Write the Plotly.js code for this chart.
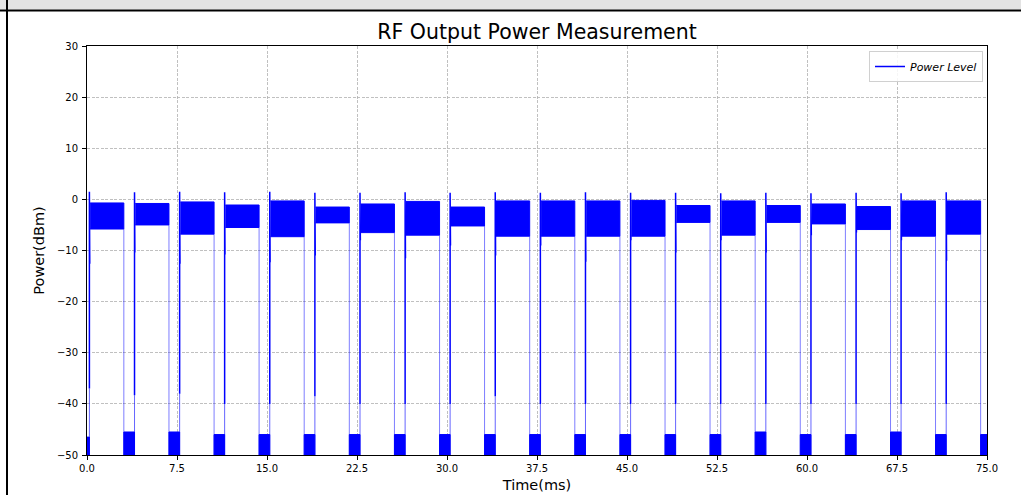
<!DOCTYPE html>
<html>
<head>
<meta charset="utf-8">
<script src="https://cdn.plot.ly/plotly-3.0.1.min.js"></script>
<style>html,body{margin:0;padding:0;background:#fff;overflow:hidden;}#chart{width:1021px;height:495px;}</style>
</head>
<body>
<div id="chart"></div>
<script>
// ---- data (time in ms, power in dBm) ----
const burstStart = [0.20, 3.96, 7.72, 11.47, 15.23, 18.99, 22.75, 26.51, 30.26, 34.02, 37.78, 41.54, 45.30, 49.05, 52.81, 56.57, 60.33, 64.09, 67.84, 71.60];
const burstEnd   = [3.07, 6.83, 10.59, 14.34, 18.10, 21.86, 25.62, 29.38, 33.13, 36.89, 40.65, 44.41, 48.17, 51.92, 55.68, 59.44, 63.20, 66.96, 70.71, 74.47];
const bandTop    = [-0.7, -0.8, -0.5, -1.1, -0.3, -1.5, -0.9, -0.4, -1.5, -0.3, -0.3, -0.3, -0.2, -1.2, -0.3, -1.2, -0.9, -1.4, -0.3, -0.3];
const bandBottom = [-5.8, -5.0, -6.8, -5.5, -7.3, -4.6, -6.5, -7.0, -5.2, -7.2, -7.2, -7.2, -7.2, -4.5, -7.0, -4.5, -4.8, -5.9, -7.2, -6.8];
const spikeTop   = [1.5, 1.4, 1.5, 1.4, 1.5, 1.3, 1.3, 1.4, 1.3, 1.4, 1.3, 1.4, 1.3, 1.3, 1.2, 1.3, 1.2, 1.3, 1.2, 1.4];
const spikeLow   = [-12.6, -10.4, -12.6, -10.8, -12.3, -11.0, -8.0, -11.5, -9.0, -11.0, -9.0, -12.2, -8.0, -10.4, -8.0, -10.4, -7.0, -6.5, -8.0, -12.0];
const riseFoot   = [-37.0, -38.3, -38.0, -40.0, -40.0, -38.5, -40.0, -40.0, -40.0, -38.5, -40.0, -40.0, -40.0, -40.0, -40.0, -40.0, -40.0, -40.0, -40.0, -40.0];
const gapTop     = [-46.5, -45.5, -45.5, -46.0, -46.0, -46.0, -46.0, -46.0, -46.0, -46.0, -46.0, -46.0, -46.0, -46.0, -46.0, -45.5, -46.0, -46.0, -45.5, -46.0, -46.0];
const xTickVals  = [0, 7.5, 15, 22.5, 30, 37.5, 45, 52.5, 60, 67.5, 75];
const xTickText  = ["0.0", "7.5", "15.0", "22.5", "30.0", "37.5", "45.0", "52.5", "60.0", "67.5", "75.0"];
const yTickVals  = [-50, -40, -30, -20, -10, 0, 10, 20, 30];
const xRange = [0, 75];
const yRange = [-50, 30];

// ---- build marks from the arrays ----
const floorY = yRange[0];
const BLUE = '#0000ff';

// noise-floor gaps
const gx = [], gy = [];
for (let j = 0; j <= burstStart.length; j++) {
  const s = j === 0 ? xRange[0] : burstEnd[j - 1];
  const e = j === burstStart.length ? xRange[1] : burstStart[j];
  gx.push(s, s, e, e, null);
  gy.push(floorY, gapTop[j], gapTop[j], floorY, null);
}
// on-bands
const bx = [], by = [];
for (let i = 0; i < burstStart.length; i++) {
  const s = burstStart[i] + 0.06;
  bx.push(s, burstEnd[i], burstEnd[i], s, null);
  by.push(bandTop[i], bandTop[i], bandBottom[i], bandBottom[i], null);
}
// rising edge + start spike, falling edge
const rx = [], ry = [];
const fx = [], fy = [];
const lx = [], ly = [];
for (let i = 0; i < burstStart.length; i++) {
  const s = burstStart[i];
  lx.push(s, s, null);
  ly.push(floorY, riseFoot[i], null);
  rx.push(s, s, s + 0.03, s + 0.03, null);
  ry.push(riseFoot[i], spikeTop[i], spikeTop[i], spikeLow[i], null);
  fx.push(burstEnd[i], burstEnd[i], null);
  fy.push(bandBottom[i], floorY, null);
}

const traces = [
  {x: gx, y: gy, type: 'scatter', mode: 'lines', fill: 'toself', fillcolor: BLUE,
   line: {color: BLUE, width: 1}, showlegend: false, hoverinfo: 'skip'},
  {x: bx, y: by, type: 'scatter', mode: 'lines', fill: 'toself', fillcolor: BLUE,
   line: {color: BLUE, width: 1}, showlegend: false, hoverinfo: 'skip'},
  {x: lx, y: ly, type: 'scatter', mode: 'lines', line: {color: BLUE, width: 1}, opacity: 0.6,
   showlegend: false, hoverinfo: 'skip'},
  {x: fx, y: fy, type: 'scatter', mode: 'lines', line: {color: BLUE, width: 1}, opacity: 0.5,
   showlegend: false, hoverinfo: 'skip'},
  {x: rx, y: ry, type: 'scatter', mode: 'lines', line: {color: BLUE, width: 1.5},
   name: 'Power Level', showlegend: true, hoverinfo: 'skip'}
];

const FONT = 'DejaVu Sans, Verdana, sans-serif';
const L = 87, R = 34, T = 46, B = 40;
const W = 1021, H = 495;
const pw = W - L - R, ph = H - T - B;
const px2x = p => (p - L) / pw;
const py2y = p => (H - B - p) / ph;

const layout = {
  width: W, height: H,
  margin: {l: L, r: R, t: T, b: B, pad: 0},
  paper_bgcolor: '#ffffff', plot_bgcolor: '#ffffff',
  font: {family: FONT, color: '#000'},
  title: {text: 'RF Output Power Measurement', font: {family: FONT, size: 20.5, color: '#000'},
          xref: 'paper', x: 0.5, xanchor: 'center', yref: 'container', y: 1 - 32 / H, yanchor: 'middle'},
  xaxis: {range: xRange, tickvals: xTickVals, ticktext: xTickText, showgrid: true,
          gridcolor: '#b0b0b0', griddash: '3px,1.5px', gridwidth: 0.8, zeroline: false,
          showline: true, linecolor: '#000', linewidth: 1, mirror: true,
          ticks: 'outside', ticklen: 4, tickwidth: 1, tickcolor: '#000',
          tickfont: {family: FONT, size: 10, color: '#000'},
          title: {text: 'Time(ms)', font: {family: FONT, size: 14.5, color: '#000'}, standoff: 6}},
  yaxis: {range: yRange, tickvals: yTickVals, showgrid: true,
          gridcolor: '#b0b0b0', griddash: '3px,1.5px', gridwidth: 0.8, zeroline: false,
          showline: true, linecolor: '#000', linewidth: 1, mirror: true,
          ticks: 'outside', ticklen: 4, tickwidth: 1, tickcolor: '#000', ticklabelstandoff: 2,
          tickfont: {family: FONT, size: 10, color: '#000'},
          title: {text: 'Power(dBm)', font: {family: FONT, size: 14.5, color: '#000'}, standoff: 8}},
  legend: {x: px2x(983), y: py2y(51), xanchor: 'right', yanchor: 'top',
           bgcolor: 'rgba(255,255,255,0.85)', bordercolor: '#d0d0d0', borderwidth: 1,
           font: {family: FONT, size: 11, style: 'italic', color: '#000'}, itemwidth: 30},
  shapes: [
    {type: 'rect', xref: 'paper', yref: 'paper', x0: px2x(0), x1: px2x(W), y0: py2y(9.5), y1: py2y(0),
     fillcolor: '#e3e3e3', line: {width: 0, color: 'rgba(0,0,0,0)'}, layer: 'above'},
    {type: 'line', xref: 'paper', yref: 'paper', x0: px2x(0), x1: px2x(W), y0: py2y(10.5), y1: py2y(10.5),
     line: {color: '#000', width: 2}, layer: 'above'},
    {type: 'line', xref: 'paper', yref: 'paper', x0: px2x(7), x1: px2x(7), y0: py2y(H), y1: py2y(0),
     line: {color: '#000', width: 2}, layer: 'above'}
  ],
  showlegend: true
};

Plotly.newPlot('chart', traces, layout, {staticPlot: true, displayModeBar: false});
</script>
</body>
</html>
